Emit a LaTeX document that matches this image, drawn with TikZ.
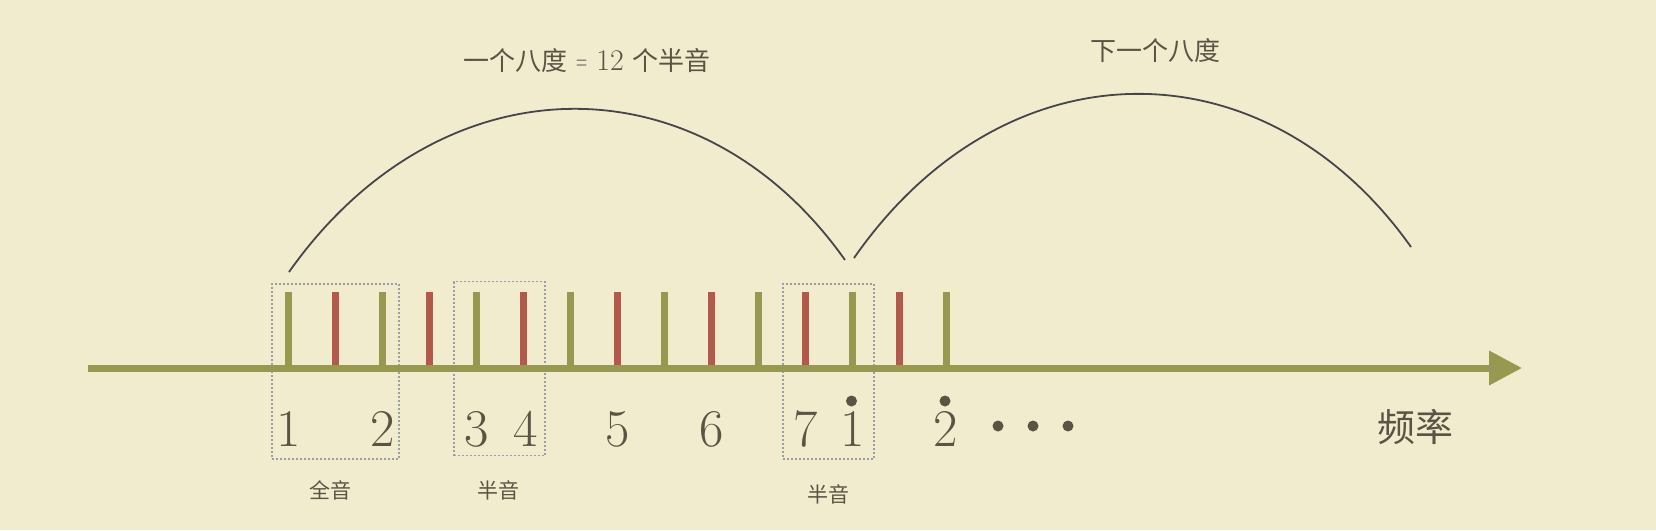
\documentclass[tikz,border=0pt]{standalone}
\usepackage{fontspec}
\newfontfamily\cjk{Noto Sans CJK SC}
\usetikzlibrary{arrows.meta}
\definecolor{paper}{HTML}{F2ECCF}
\definecolor{axisgreen}{HTML}{979950}
\definecolor{tickred}{HTML}{B3594A}
\definecolor{boxgray}{HTML}{9A9EA8}
\definecolor{inkdark}{HTML}{5A5445}
\definecolor{arcgray}{HTML}{45454B}
\begin{document}
\begin{tikzpicture}[x=1pt,y=-1pt,
  greentick/.style={draw=axisgreen,line width=6.5pt},
  redtick/.style={draw=tickred,line width=6.5pt},
  notebox/.style={draw=boxgray,line width=1.5pt,dash pattern=on 2pt off 2pt},
  numlabel/.style={anchor=base,inner sep=0pt,text=inkdark,font=\fontsize{53}{53}\selectfont},
  cjklabel/.style={inner sep=0pt,text=inkdark,font=\cjk\fontsize{21}{21}\selectfont},
  titlelabel/.style={inner sep=0pt,text=inkdark,font=\cjk\fontsize{26}{26}\selectfont},
  arcline/.style={draw=arcgray,line width=1.8pt},
  dotmark/.style={circle,fill=inkdark,inner sep=0pt,minimum size=11pt}
]
\useasboundingbox (0,0) rectangle (1656,530);
\fill[paper] (0,0) rectangle (1656,530);

% arcs
\coordinate (a1s) at (289,272);
\coordinate (a1e) at (845,260);
\coordinate (a2s) at (854,258);
\coordinate (a2e) at (1411,247);
\draw[arcline] (a1s) .. controls (440,58) and (700,55) .. (a1e);
\draw[arcline] (a2s) .. controls (1005,41) and (1265,41) .. (a2e);

% dotted boxes
\node[notebox,minimum width=127pt,minimum height=175pt,inner sep=0pt] (box1) at (335.4,371.5) {};
\node[notebox,minimum width=91pt,minimum height=174pt,inner sep=0pt] (box2) at (499.7,368.7) {};
\node[notebox,minimum width=91pt,minimum height=175pt,inner sep=0pt] (box3) at (828.4,371.5) {};

% ticks
\foreach \i in {0,...,14}{
  \pgfmathsetmacro{\xx}{288.3+47*\i}
  \coordinate (t\i top) at (\xx,292);
  \coordinate (t\i bot) at (\xx,368);
  \ifodd\i
    \draw[redtick] (t\i top) -- (t\i bot);
  \else
    \draw[greentick] (t\i top) -- (t\i bot);
  \fi
}

% axis
\coordinate (axstart) at (88,368);
\coordinate (axend) at (1522,368);
\draw[draw=axisgreen,line width=7pt,-{Triangle[length=33pt,width=33pt]}] (axstart) -- (axend);

% numbers
\node[numlabel] (n1) at (288.3,446) {1};
\node[numlabel] (n2) at (382.3,446) {2};
\node[numlabel] (n3) at (476.3,446) {3};
\node[numlabel] (n4) at (525.3,446) {4};
\node[numlabel] (n5) at (617.3,446) {5};
\node[numlabel] (n6) at (711.3,446) {6};
\node[numlabel] (n7) at (805.3,446) {7};
\node[numlabel] (n8) at (852.3,446) {1};
\node[numlabel] (n9) at (945.3,446) {2};
\node[dotmark] (d8) at (851.5,401) {};
\node[dotmark] (d9) at (945,401) {};
\node[dotmark] (e1) at (998,426) {};
\node[dotmark] (e2) at (1033,426) {};
\node[dotmark] (e3) at (1068,426) {};

% labels
\node[cjklabel] (l1) at (330,490) {全音};
\node[cjklabel] (l2) at (498,490) {半音};
\node[cjklabel] (l3) at (828,494) {半音};
\node[inner sep=0pt,text=inkdark,font=\cjk\fontsize{38}{38}\selectfont] (freq) at (1415,427) {频率};
\node[titlelabel] (t1) at (587,61) {一个八度\hspace{9pt}{\color{inkdark!75}\fontsize{20}{20}\selectfont=}\hspace{9pt}{\fontspec{Latin Modern Roman}\fontsize{30}{30}\selectfont 12}\hspace{9pt}个半音};
\node[titlelabel] (t2) at (1155,51) {下一个八度};
\end{tikzpicture}
\end{document}
